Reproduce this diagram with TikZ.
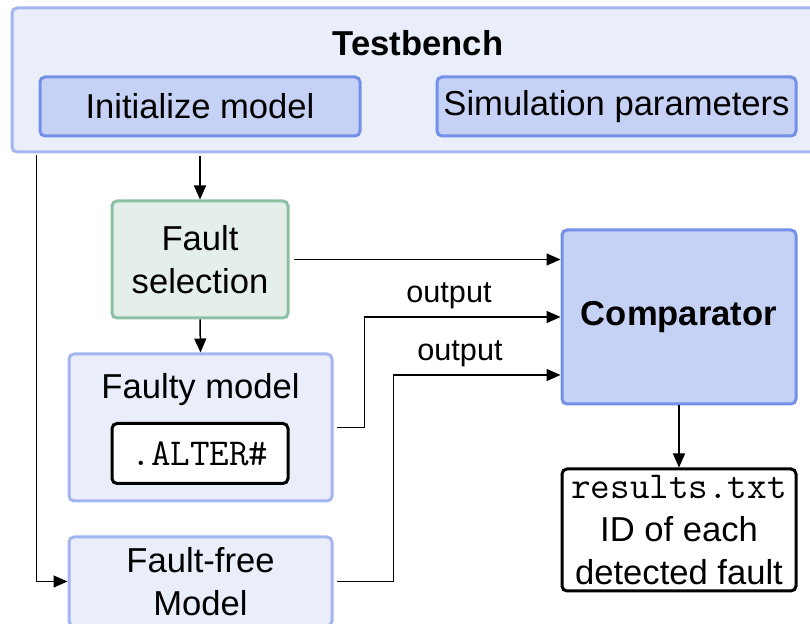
\documentclass[tikz,border=0pt]{standalone}
\usepackage{fontspec}
\setmainfont{Liberation Sans}
\usetikzlibrary{arrows.meta}
\definecolor{paleblue}{HTML}{E9EEFA}
\definecolor{paleedge}{HTML}{A4B6F0}
\definecolor{midblue}{HTML}{C6D2F5}
\definecolor{midedge}{HTML}{7490E8}
\definecolor{palegreen}{HTML}{E5EFEA}
\definecolor{greenedge}{HTML}{8CC0A4}
\newcommand{\codefont}{\fontsize{19}{21.5}\selectfont\ttfamily}
\begin{document}
\begin{tikzpicture}[x=0.5pt,y=-0.5pt,
  every node/.style={font=\fontsize{17.3}{21.5}\selectfont, inner sep=0pt, align=center},
  box/.style={rounded corners=2.5pt, line width=1.5pt},
  outerbox/.style={box, fill=paleblue, draw=paleedge},
  innerbox/.style={box, fill=midblue, draw=midedge},
  selbox/.style={box, fill=palegreen, draw=greenedge},
  filebox/.style={box, fill=white, draw=black},
  wire/.style={line width=0.75pt},
  arrow/.style={wire, -{Triangle[length=7pt,width=6pt]}},
  lbl/.style={font=\fontsize{15.3}{18}\selectfont}
]
\useasboundingbox (0,0) rectangle (810,624);
\clip (0,0) rectangle (810,624);

% testbench frame and its two blocks
\node[outerbox, minimum width=406pt, minimum height=72pt] (tb) at (418,80) {};
\node[font=\fontsize{17.3}{21.5}\selectfont\bfseries] (tbtitle) at (418,43) {Testbench};
\node[innerbox, minimum width=160pt, minimum height=29.5pt] (init) at (200,106.5) {Initialize model};
\node[innerbox, minimum width=179.5pt, minimum height=29.5pt] (simp) at (616.5,106.5) {Simulation parameters};

% fault injection chain
\node[selbox, minimum width=88pt, minimum height=58.5pt] (fsel) at (200,259.5) {Fault\\selection};
\node[outerbox, minimum width=131.5pt, minimum height=73.5pt] (faulty) at (200.5,427.5) {};
\node (faultytxt) at (200.5,390) {Faulty model};
\node[filebox, minimum width=88pt, minimum height=30pt] (alter) at (200,453.5) {\codefont .ALTER\#};
\node[outerbox, minimum width=131.5pt, minimum height=44.5pt] (ffree) at (200.5,581.5) {Fault-free\\Model};

% comparison and result file
\node[innerbox, minimum width=117pt, minimum height=87pt, font=\fontsize{17.3}{21.5}\selectfont\bfseries] (comp) at (679,317) {Comparator};
\node[filebox, minimum width=117pt, minimum height=61pt] (res) at (679,530) {{\codefont results.txt}\\ID of each\\detected fault};

% connectors
\coordinate (tap) at (36.5,155);
\draw[arrow, shorten <=1.5pt] (tb.south -| fsel.north) -- (fsel.north);
\draw[arrow] (tap) |- (ffree.west);
\draw[arrow, shorten <=2pt] (fsel.east) -- (fsel.east -| comp.west);
\draw[arrow] (fsel.south) -- (faulty.north);
\draw[arrow, shorten <=1.5pt] (faulty.east) -- ++(31,0) |- (comp.west);
\draw[arrow, shorten <=1.5pt] (ffree.east) -- ++(60,0) |- ([yshift=-29pt]comp.west);
\draw[arrow] (comp.south) -- (res.north);

% signal labels
\node[lbl] (out1) at (449,296) {output};
\node[lbl] (out2) at (460,354) {output};
\end{tikzpicture}
\end{document}
